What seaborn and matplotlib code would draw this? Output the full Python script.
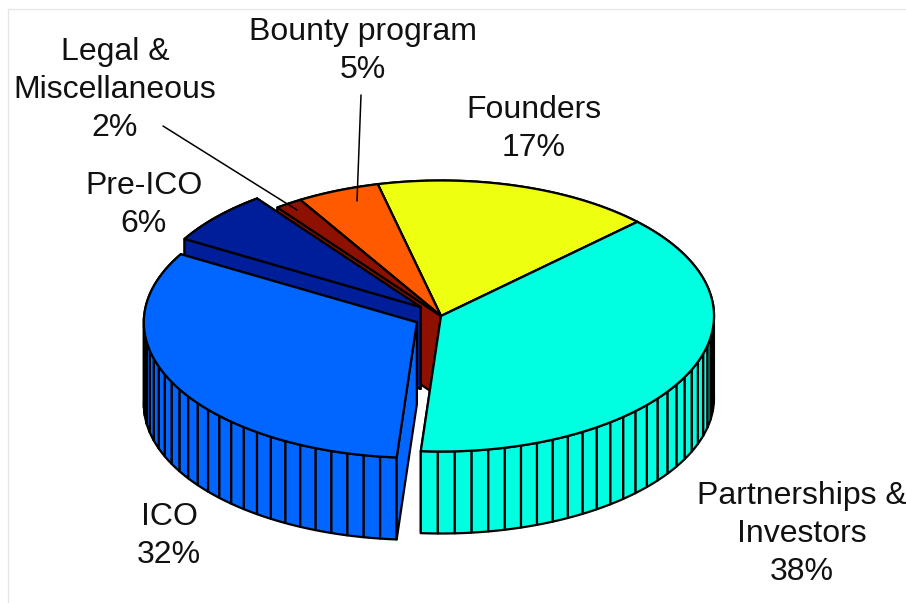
# 3D token allocation pie, drawn with polygons on a seaborn styled axes
import numpy as np
import matplotlib
matplotlib.use('Agg')
import matplotlib.pyplot as plt
from matplotlib.patches import Polygon
import seaborn as sns

sns.set_theme(style='white')
plt.rcParams['font.family'] = ['Liberation Sans', 'DejaVu Sans']

# clockwise from the Partnerships edge, shares
names = ['Partnerships &\nInvestors', 'ICO', 'Pre-ICO', 'Legal &\nMiscellaneous', 'Bounty program', 'Founders']
shares = [38.4, 32.2, 6.4, 1.6, 4.9, 16.5]
percent_text = ['38%', '32%', '6%', '2%', '5%', '17%']
explode = [0, 0.1, 0.1, 0, 0, 0]
colors = sns.color_palette(['#00FFE1', '#0066FF', '#001E9A', '#8E1000', '#FF5A00', '#EEFF10'])

# layout, in pixels
cx, cy = 441, 316
rx, ry = 273, 135.5
depth = 82
start_angle = 44
step = 3.6

label_x = [802, 169, 144, 115, 363, 534]
label_y = [534, 536, 205, 90, 51, 129]
leader_lines = {3: ((163, 126), (297, 210)), 4: ((361, 95), (357, 201))}

fig = plt.figure(figsize=(9.06, 6.03), dpi=100)
ax = fig.add_axes([0, 0, 1, 1])
ax.set_xlim(0, 906)
ax.set_ylim(603, 0)
ax.axis('off')

# faint frame left over along the top and left of the picture
ax.plot([906, 7.5, 7.5], [8.5, 8.5, 603], color='#e6e6e6', linewidth=0.9, zorder=0)


def rim(t, ox, oy):
    r = np.radians(t)
    return np.column_stack([ox + rx * np.cos(r), oy - ry * np.sin(r)])


z = 1


def face(points, color):
    global z
    ax.add_patch(Polygon(points, closed=True, facecolor=color, edgecolor='black',
                         linewidth=1.6, joinstyle='round', zorder=z))
    z += 1


def cut_wall(t, ox, oy, color):
    apex = np.array([[ox, oy]])
    edge = rim(np.array([t]), ox, oy)
    face(np.vstack([apex, edge, edge + [0, depth], apex + [0, depth]]), color)


# work out where each slice starts and ends
edges = start_angle - np.cumsum([0] + shares) * 3.6
slices = []
for i in range(len(shares)):
    t0, t1 = edges[i], edges[i + 1]
    mid = np.radians((t0 + t1) / 2)
    ox = cx + explode[i] * rx * np.cos(mid)
    oy = cy - explode[i] * ry * np.sin(mid)
    slices.append((t0, t1, ox, oy))

# back to front
draw_order = [5, 4, 3, 0, 2, 1]
for i in draw_order:
    t0, t1, ox, oy = slices[i]

    # outer wall, one facet per step
    n = max(int(np.ceil((t0 - t1) / step)), 1)
    ticks = np.linspace(t0, t1, n + 1)
    facets = []
    for a, b in zip(ticks[:-1], ticks[1:]):
        top = rim(np.linspace(a, b, 5), ox, oy)
        facets.append((np.sin(np.radians((a + b) / 2)), np.vstack([top, top[::-1] + [0, depth]])))

    for s, pts in facets:
        if s > 0:
            face(pts, colors[i])
    cut_wall(t1, ox, oy, colors[i])
    for s, pts in facets:
        if s <= 0:
            face(pts, colors[i])
    cut_wall(t0, ox, oy, colors[i])

    # top of the slice
    arc = np.linspace(t0, t1, 120)
    face(np.vstack([[[ox, oy]], rim(arc, ox, oy)]), colors[i])

for i, name in enumerate(names):
    ax.text(label_x[i], label_y[i], name + '\n' + percent_text[i], ha='center', va='center',
            fontsize=23, color='#111111', linespacing=1.35, zorder=z + 2)

for i, (p0, p1) in leader_lines.items():
    ax.plot([p0[0], p1[0]], [p0[1], p1[1]], color='black', linewidth=1.1, zorder=z + 1)

fig.savefig('out.png', dpi=100, facecolor='white')
